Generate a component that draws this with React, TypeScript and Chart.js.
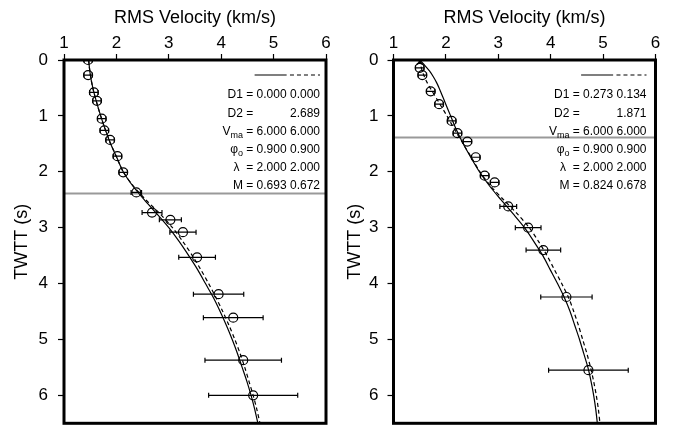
import React, { useEffect, useRef } from 'react';
import { Chart, registerables } from 'chart.js';

Chart.register(...registerables);

const FONT = "'Liberation Sans', Arial, Helvetica, sans-serif";

// Axes
const X_MIN = 1;
const X_MAX = 6;
const Y_MIN = 0;
const Y_MAX = 6.5;
const AXIS_STEP = 0.5;
const X_TITLE = 'RMS Velocity (km/s)';
const Y_TITLE = 'TWTT (s)';

// Left panel: observed RMS velocities (TWTT s, km/s, error km/s)
const LEFT_OBS_TWTT = [0.0, 0.27, 0.58, 0.73, 1.05, 1.26, 1.43, 1.72, 2.01, 2.37, 2.73, 2.86, 3.08, 3.53, 4.19, 4.61, 5.37, 6.0];
const LEFT_OBS_VRMS = [1.46, 1.46, 1.57, 1.63, 1.72, 1.77, 1.88, 2.02, 2.13, 2.38, 2.68, 3.03, 3.27, 3.54, 3.95, 4.23, 4.42, 4.61];
const LEFT_OBS_ERR = [0.08, 0.08, 0.08, 0.08, 0.08, 0.08, 0.08, 0.08, 0.08, 0.1, 0.19, 0.21, 0.25, 0.35, 0.48, 0.57, 0.73, 0.85];

// Left panel: model curves
const LEFT_MODEL_TWTT = [0, 0.25, 0.5, 0.75, 1.0, 1.25, 1.5, 1.75, 2.0, 2.25, 2.5, 2.75, 3.0, 3.25, 3.5, 3.75, 4.0, 4.25, 4.5, 4.75, 5.0, 5.25, 5.5, 5.75, 6.0, 6.25, 6.5];
const LEFT_SOLID_V = [1.47, 1.5, 1.55, 1.62, 1.7, 1.79, 1.89, 2.01, 2.13, 2.31, 2.53, 2.77, 3.0, 3.2, 3.38, 3.55, 3.7, 3.85, 3.98, 4.1, 4.21, 4.31, 4.4, 4.49, 4.57, 4.64, 4.7];
const LEFT_DASHED_V = [1.47, 1.5, 1.55, 1.62, 1.7, 1.79, 1.89, 2.01, 2.13, 2.32, 2.56, 2.83, 3.07, 3.27, 3.45, 3.61, 3.76, 3.9, 4.03, 4.15, 4.26, 4.36, 4.45, 4.53, 4.61, 4.68, 4.74];
const LEFT_MARKER_TWTT = 2.39;

// Right panel: observed RMS velocities
const RIGHT_OBS_TWTT = [0.14, 0.27, 0.56, 0.79, 1.09, 1.31, 1.46, 1.74, 2.07, 2.19, 2.62, 3.0, 3.4, 4.24, 5.55];
const RIGHT_OBS_VRMS = [1.5, 1.55, 1.71, 1.87, 2.11, 2.22, 2.41, 2.57, 2.74, 2.93, 3.19, 3.57, 3.86, 4.3, 4.72];
const RIGHT_OBS_ERR = [0.08, 0.08, 0.08, 0.08, 0.08, 0.08, 0.08, 0.08, 0.08, 0.08, 0.16, 0.245, 0.33, 0.49, 0.76];
const RIGHT_CROSS_TWTT = [0.03];
const RIGHT_CROSS_VRMS = [1.5];

// Right panel: model curves
const RIGHT_MODEL_TWTT = [0, 0.1, 0.2, 0.3, 0.4, 0.5, 0.75, 1.0, 1.25, 1.5, 1.75, 2.0, 2.25, 2.5, 2.75, 3.0, 3.25, 3.5, 3.75, 4.0, 4.25, 4.5, 4.75, 5.0, 5.25, 5.5, 5.75, 6.0, 6.25, 6.5];
const RIGHT_SOLID_V = [1.5, 1.6, 1.69, 1.76, 1.82, 1.87, 1.98, 2.09, 2.2, 2.33, 2.48, 2.64, 2.83, 3.05, 3.28, 3.5, 3.68, 3.85, 3.99, 4.13, 4.26, 4.37, 4.46, 4.55, 4.63, 4.71, 4.77, 4.82, 4.86, 4.89];
const RIGHT_DASHED_V = [1.49, 1.52, 1.55, 1.59, 1.64, 1.7, 1.86, 2.02, 2.17, 2.33, 2.49, 2.65, 2.85, 3.1, 3.36, 3.59, 3.77, 3.93, 4.07, 4.21, 4.34, 4.44, 4.53, 4.61, 4.69, 4.76, 4.82, 4.87, 4.91, 4.94];
const RIGHT_MARKER_TWTT = 1.385;

// Parameter annotation
const PARAM_NAMES = ['D1', 'D2', 'V', 'φ', 'λ ', 'M'];
const PARAM_SUBS = ['', '', 'ma', 'o', '', ''];
const LEFT_PARAM_SOLID = ['0.000', '', '6.000', '0.900', '2.000', '0.693'];
const LEFT_PARAM_DASHED = ['0.000', '2.689', '6.000', '0.900', '2.000', '0.672'];
const RIGHT_PARAM_SOLID = ['0.273', '', '6.000', '0.900', '2.000', '0.824'];
const RIGHT_PARAM_DASHED = ['0.134', '1.871', '6.000', '0.900', '2.000', '0.678'];

type PanelSpec = {
  obsT: number[];
  obsV: number[];
  obsE: number[];
  modelT: number[];
  solidV: number[];
  dashedV: number[];
  markerT: number;
  crossT?: number[];
  crossV?: number[];
  paramSolid: string[];
  paramDashed: string[];
  yAxisWidth: number;
  rightPad: number;
  yLabelPad: number;
  yTitlePad: number;
  textInset: number;
};

const TEXT_FONT = `12px ${FONT}`;
const SUB_FONT = `9px ${FONT}`;

function decorPlugin(spec: PanelSpec) {
  return {
    id: 'panelDecor',
    afterDatasetsDraw(chart: any) {
      const { ctx, chartArea: a, scales } = chart;
      ctx.save();
      ctx.strokeStyle = '#000';
      ctx.lineWidth = 1.2;
      // minor ticks
      scales.x.ticks.forEach((t: any) => {
        if (!Number.isInteger(t.value)) {
          const px = scales.x.getPixelForValue(t.value);
          ctx.beginPath();
          ctx.moveTo(px, a.top);
          ctx.lineTo(px, a.top - 4.5);
          ctx.stroke();
        }
      });
      scales.y.ticks.forEach((t: any) => {
        if (!Number.isInteger(t.value)) {
          const py = scales.y.getPixelForValue(t.value);
          ctx.beginPath();
          ctx.moveTo(a.left, py);
          ctx.lineTo(a.left - 4.5, py);
          ctx.stroke();
        }
      });
      // frame
      ctx.lineWidth = 3;
      ctx.strokeRect(a.left, a.top, a.right - a.left, a.bottom - a.top);

      // annotation
      const R = a.right - spec.textInset;
      ctx.font = TEXT_FONT;
      ctx.textBaseline = 'middle';
      ctx.fillStyle = '#000';
      const colW = ctx.measureText('0.000').width;
      const gap = ctx.measureText(' ').width;
      const col1R = R - colW - gap;
      const eqR = col1R - colW - gap;
      const labelR = eqR - ctx.measureText('=').width - gap;

      const ly = a.top + 15;
      ctx.lineWidth = 1.2;
      ctx.beginPath();
      ctx.moveTo(col1R - colW - 2, ly);
      ctx.lineTo(col1R, ly);
      ctx.stroke();
      ctx.setLineDash([4, 3]);
      ctx.beginPath();
      ctx.moveTo(R - colW, ly);
      ctx.lineTo(R, ly);
      ctx.stroke();
      ctx.setLineDash([]);

      PARAM_NAMES.forEach((name, i) => {
        const y = a.top + 35 + i * 18.2;
        ctx.textAlign = 'right';
        ctx.font = TEXT_FONT;
        if (spec.paramDashed[i]) ctx.fillText(spec.paramDashed[i], R, y);
        if (spec.paramSolid[i]) ctx.fillText(spec.paramSolid[i], col1R, y);
        ctx.fillText('=', eqR, y);
        let x = labelR;
        const sub = PARAM_SUBS[i];
        if (sub) {
          ctx.font = SUB_FONT;
          ctx.fillText(sub, x, y + 4);
          x -= ctx.measureText(sub).width;
          ctx.font = TEXT_FONT;
        }
        ctx.fillText(name, x, y);
      });
      ctx.restore();
    },
  };
}

function buildConfig(spec: PanelSpec): any {
  const datasets: any[] = [];
  datasets.push({
    data: [{ x: X_MIN, y: spec.markerT }, { x: X_MAX, y: spec.markerT }],
    showLine: true,
    borderColor: '#999999',
    borderWidth: 2,
    pointRadius: 0,
    order: 10,
    clip: 0,
  });
  datasets.push({
    data: spec.modelT.map((t, i) => ({ x: spec.solidV[i], y: t })),
    showLine: true,
    borderColor: '#000',
    borderWidth: 1.2,
    pointRadius: 0,
    tension: 0.3,
    order: 5,
    clip: 0,
  });
  datasets.push({
    data: spec.modelT.map((t, i) => ({ x: spec.dashedV[i], y: t })),
    showLine: true,
    borderColor: '#000',
    borderWidth: 1.2,
    borderDash: [4, 3],
    pointRadius: 0,
    tension: 0.3,
    order: 5,
    clip: 0,
  });
  spec.obsT.forEach((t, i) => {
    const v = spec.obsV[i];
    const e = spec.obsE[i];
    datasets.push({
      data: [{ x: v - e, y: t }, { x: v + e, y: t }],
      showLine: true,
      borderColor: '#000',
      borderWidth: 1.2,
      pointStyle: 'line',
      rotation: 90,
      pointRadius: 2.5,
      order: 3,
      clip: 0,
    });
  });
  datasets.push({
    data: spec.obsT.map((t, i) => ({ x: spec.obsV[i], y: t })),
    showLine: false,
    pointStyle: 'circle',
    pointRadius: 4.5,
    borderColor: '#000',
    backgroundColor: 'rgba(0,0,0,0)',
    borderWidth: 1.2,
    order: 1,
    clip: 0,
  });
  if (spec.crossT && spec.crossV) {
    datasets.push({
      data: spec.crossT.map((t, i) => ({ x: spec.crossV![i], y: t })),
      showLine: false,
      pointStyle: 'crossRot',
      pointRadius: 4,
      borderColor: '#000',
      borderWidth: 1.2,
      order: 1,
      clip: 0,
    });
  }

  const isMajor = (v: number) => Number.isInteger(v);
  const noPad = (s: any) => {
    s.paddingTop = 0;
    s.paddingBottom = 0;
    s.paddingLeft = 0;
    s.paddingRight = 0;
  };

  return {
    type: 'scatter',
    data: { datasets },
    plugins: [decorPlugin(spec)],
    options: {
      animation: false,
      responsive: false,
      events: [],
      layout: { padding: { left: 0, top: 0, right: spec.rightPad, bottom: 3 } },
      plugins: {
        legend: { display: false },
        tooltip: { enabled: false },
        colors: { enabled: false },
      },
      scales: {
        x: {
          type: 'linear',
          position: 'top',
          min: X_MIN,
          max: X_MAX,
          afterFit: (s: any) => {
            s.height = 60;
            noPad(s);
          },
          border: { display: false },
          grid: {
            drawOnChartArea: false,
            drawTicks: true,
            tickLength: 6,
            tickWidth: 1.2,
            tickColor: '#000',
          },
          ticks: {
            stepSize: AXIS_STEP,
            autoSkip: false,
            maxRotation: 0,
            padding: 0,
            color: '#000',
            font: { family: FONT, size: 17 },
            callback: (v: any) => (isMajor(Number(v)) ? String(v) : null),
          },
          title: {
            display: true,
            text: X_TITLE,
            color: '#000',
            font: { family: FONT, size: 18 },
            padding: { top: 7, bottom: 0 },
          },
        },
        y: {
          type: 'linear',
          position: 'left',
          reverse: true,
          min: Y_MIN,
          max: Y_MAX,
          afterFit: (s: any) => {
            s.width = spec.yAxisWidth;
            noPad(s);
          },
          border: { display: false },
          grid: {
            drawOnChartArea: false,
            drawTicks: true,
            tickLength: 6,
            tickWidth: 1.2,
            tickColor: '#000',
          },
          ticks: {
            stepSize: AXIS_STEP,
            autoSkip: false,
            padding: spec.yLabelPad,
            color: '#000',
            font: { family: FONT, size: 17 },
            callback: (v: any) => (isMajor(Number(v)) ? String(v) : null),
          },
          title: {
            display: true,
            text: Y_TITLE,
            color: '#000',
            font: { family: FONT, size: 18 },
            padding: { top: spec.yTitlePad, bottom: 0 },
          },
        },
      },
    },
  };
}

const LEFT_SPEC: PanelSpec = {
  obsT: LEFT_OBS_TWTT,
  obsV: LEFT_OBS_VRMS,
  obsE: LEFT_OBS_ERR,
  modelT: LEFT_MODEL_TWTT,
  solidV: LEFT_SOLID_V,
  dashedV: LEFT_DASHED_V,
  markerT: LEFT_MARKER_TWTT,
  paramSolid: LEFT_PARAM_SOLID,
  paramDashed: LEFT_PARAM_DASHED,
  yAxisWidth: 64,
  rightPad: 11,
  yLabelPad: 10,
  yTitlePad: 11,
  textInset: 6,
};

const RIGHT_SPEC: PanelSpec = {
  obsT: RIGHT_OBS_TWTT,
  obsV: RIGHT_OBS_VRMS,
  obsE: RIGHT_OBS_ERR,
  modelT: RIGHT_MODEL_TWTT,
  solidV: RIGHT_SOLID_V,
  dashedV: RIGHT_DASHED_V,
  markerT: RIGHT_MARKER_TWTT,
  crossT: RIGHT_CROSS_TWTT,
  crossV: RIGHT_CROSS_VRMS,
  paramSolid: RIGHT_PARAM_SOLID,
  paramDashed: RIGHT_PARAM_DASHED,
  yAxisWidth: 56.5,
  rightPad: 19.5,
  yLabelPad: 9,
  yTitlePad: 7,
  textInset: 9,
};

export default function App() {
  const leftRef = useRef<HTMLCanvasElement | null>(null);
  const rightRef = useRef<HTMLCanvasElement | null>(null);

  useEffect(() => {
    const charts: Chart[] = [];
    if (leftRef.current) charts.push(new Chart(leftRef.current, buildConfig(LEFT_SPEC)));
    if (rightRef.current) charts.push(new Chart(rightRef.current, buildConfig(RIGHT_SPEC)));
    return () => charts.forEach((c) => c.destroy());
  }, []);

  return (
    <div style={{ position: 'fixed', left: 0, top: 0, width: 675, height: 429, background: '#fff' }}>
      <canvas ref={leftRef} width={337} height={429} style={{ position: 'absolute', left: 0, top: 0, width: 337, height: 429 }} />
      <canvas ref={rightRef} width={338} height={429} style={{ position: 'absolute', left: 337, top: 0, width: 338, height: 429 }} />
    </div>
  );
}
